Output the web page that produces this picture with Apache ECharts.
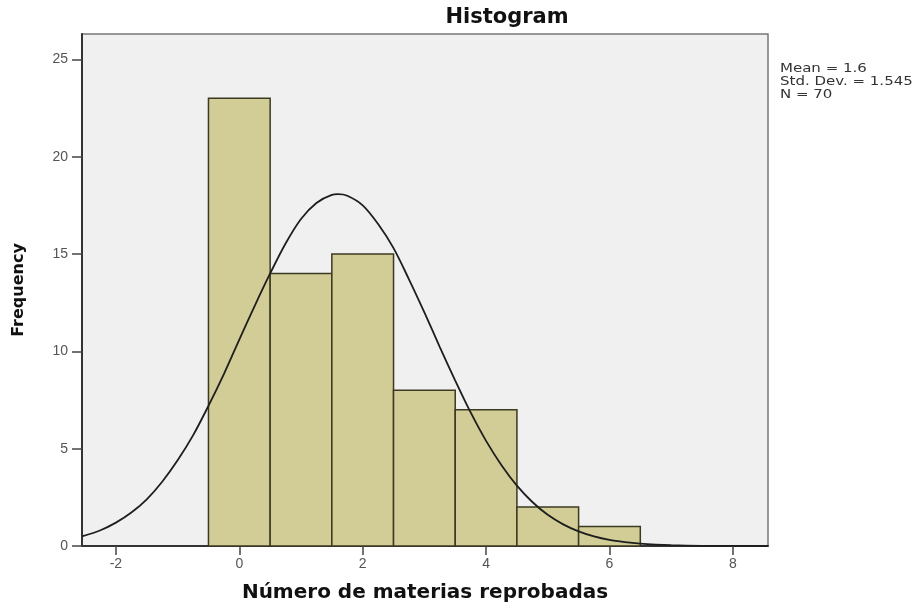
<!DOCTYPE html>
<html>
<head>
<meta charset="utf-8">
<script src="https://cdn.jsdelivr.net/npm/echarts@6/dist/echarts.min.js"></script>
<style>html,body{margin:0;padding:0;background:#fff}#c{width:921px;height:608px}</style>
</head>
<body>
<div id="c"></div>
<script>
var binCenters = [0, 1, 2, 3, 4, 5, 6];
var frequencies = [23, 14, 15, 8, 7, 2, 1];
var curveX = [-2.55, -2.25, -2, -1.75, -1.5, -1.25, -1, -0.75, -0.5, -0.25, 0, 0.25, 0.5, 0.75, 1, 1.25, 1.5, 1.6, 1.75, 2, 2.25, 2.5, 2.75, 3, 3.25, 3.5, 3.75, 4, 4.25, 4.5, 4.75, 5, 5.25, 5.5, 5.75, 6, 6.25, 6.5, 6.75, 7, 7.5, 8, 8.57];
var curveY = [0.49, 0.81, 1.2, 1.72, 2.4, 3.3, 4.4, 5.68, 7.2, 8.83, 10.6, 12.34, 14.0, 15.54, 16.8, 17.62, 18.04, 18.07, 17.99, 17.5, 16.54, 15.3, 13.7, 12.0, 10.22, 8.5, 6.86, 5.4, 4.15, 3.1, 2.26, 1.6, 1.11, 0.75, 0.49, 0.31, 0.2, 0.12, 0.07, 0.04, 0.01, 0.003, 0.0006];
var xTicks = [-2, 0, 2, 4, 6, 8];
var yTicks = [0, 5, 10, 15, 20, 25];
var statsLines = ['Mean = 1.6', 'Std. Dev. = 1.545', 'N = 70'];

var barData = binCenters.map(function (c, i) { return [c, frequencies[i]]; });
var lineData = curveX.map(function (x, i) { return [x, curveY[i]]; });

var chart = echarts.init(document.getElementById('c'));
chart.setOption({
  backgroundColor: '#ffffff',
  animation: false,
  grid: {
    left: 82, right: 153, top: 34, bottom: 62,
    show: true, backgroundColor: '#f0f0f0', borderColor: '#777', borderWidth: 1.5
  },
  xAxis: {
    type: 'value', min: -2.55, max: 8.57,
    axisLine: { show: true, onZero: false, lineStyle: { color: '#333', width: 2 } },
    axisTick: { show: true, length: 9, customValues: xTicks, lineStyle: { color: '#444', width: 1.5 } },
    axisLabel: { customValues: xTicks, color: '#555', fontSize: 14, fontFamily: 'Liberation Sans, Arial', margin: 11 },
    splitLine: { show: false }
  },
  yAxis: {
    type: 'value', min: 0, max: 26.3,
    axisLine: { show: true, onZero: false, lineStyle: { color: '#333', width: 2 } },
    axisTick: { show: true, length: 10, customValues: yTicks, lineStyle: { color: '#444', width: 1.5 } },
    axisLabel: { customValues: yTicks, color: '#555', fontSize: 14, fontFamily: 'Liberation Sans, Arial', margin: 14 },
    splitLine: { show: false }
  },
  series: [
    {
      type: 'custom',
      data: barData,
      renderItem: function (params, api) {
        var c = api.value(0), v = api.value(1);
        var p0 = api.coord([c - 0.5, v]);
        var p1 = api.coord([c + 0.5, 0]);
        return {
          type: 'rect',
          shape: { x: p0[0], y: p0[1], width: p1[0] - p0[0], height: p1[1] - p0[1] },
          style: { fill: '#d2cd96', stroke: '#3b3a22', lineWidth: 1.5 }
        };
      },
      z: 2
    },
    {
      type: 'line',
      data: lineData,
      smooth: 0.3,
      showSymbol: false,
      clip: true,
      lineStyle: { color: '#1e1e1e', width: 1.8 },
      z: 3
    }
  ],
  graphic: [
    { type: 'text', x: 507, y: 18, style: { text: 'Histogram', font: 'bold 21px DejaVu Sans, Verdana', fill: '#111', textAlign: 'center', textVerticalAlign: 'middle' } },
    { type: 'text', x: 425, y: 593, style: { text: 'Número de materias reprobadas', font: 'bold 20px DejaVu Sans, Verdana', fill: '#111', textAlign: 'center', textVerticalAlign: 'middle' } },
    { type: 'text', x: 19, y: 290, rotation: Math.PI / 2, style: { text: 'Frequency', font: 'bold 16px DejaVu Sans, Verdana', fill: '#111', textAlign: 'center', textVerticalAlign: 'middle' } },
    { type: 'text', x: 780, y: 62, scaleX: 1.25, style: { text: statsLines.join('\n'), font: '12px DejaVu Sans, Verdana', fill: '#333', lineHeight: 13 } }
  ]
});
</script>
</body>
</html>
